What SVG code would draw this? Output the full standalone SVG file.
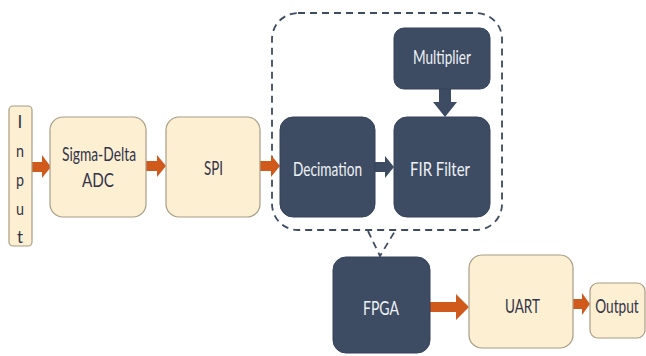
<svg xmlns="http://www.w3.org/2000/svg" width="646" height="356" viewBox="0 0 646 356">
  <style>
    .light { fill: #fcefd2; stroke: #a99c86; stroke-width: 1.2; }
    .dark { fill: #3d4c62; stroke: #34425a; stroke-width: 1; }
    .lt { font-family: Lato, "Open Sans", sans-serif; font-size: 19px; fill: #33344a; text-anchor: middle; }
    .dt { font-family: Lato, "Open Sans", sans-serif; font-size: 19px; fill: #eef1f5; text-anchor: middle; }
    .vt { font-family: Lato, "Open Sans", sans-serif; font-size: 17px; fill: #33344a; text-anchor: middle; }
    .orange { fill: #cf5a1c; }
    .navy { fill: #3d4c62; }
    .dash { fill: none; stroke: #3d4c62; stroke-width: 1.8; stroke-dasharray: 7 5; }
  </style>
  <rect width="646" height="356" fill="#ffffff"/>

  <!-- dashed enclosure of the filter chain -->
  <g id="fpga-boundary">
    <rect class="dash" x="272" y="13" width="230" height="217" rx="26"/>
  </g>

  <g id="connectors">
    <!-- orange block arrows -->
    <polygon class="orange" points="32,162 42,162 42,155 51,167 42,178 42,172 32,172"/>
    <polygon class="orange" points="146,161 157,161 157,155 166,166 157,177 157,171 146,171"/>
    <polygon class="orange" points="260,161 271,161 271,155 280,166 271,177 271,171 260,171"/>
    <polygon class="orange" points="430,302 456,302 456,294 469,307 456,320 456,312 430,312"/>
    <polygon class="orange" points="573,299 582,299 582,293 590,304 582,315 582,309 573,309"/>
    <!-- dark block arrows inside the enclosure -->
    <polygon class="navy" points="375,162 385,162 385,156 394,167 385,178 385,172 375,172"/>
    <polygon class="navy" points="439,89 451,89 451,102 457,102 445,117 433,102 439,102"/>
    <!-- dashed link from enclosure to FPGA -->
    <path class="dash" d="M368,231 L380,256 L395,231"/>
  </g>

  <g id="input">
    <rect class="light" x="9" y="106" width="23" height="140" rx="4"/>
    <text class="vt" x="20" y="128">I</text>
    <text class="vt" x="20" y="157" textLength="8" lengthAdjust="spacingAndGlyphs">n</text>
    <text class="vt" x="20" y="186" textLength="8" lengthAdjust="spacingAndGlyphs">p</text>
    <text class="vt" x="20" y="215" textLength="8" lengthAdjust="spacingAndGlyphs">u</text>
    <text class="vt" x="20" y="243" textLength="6" lengthAdjust="spacingAndGlyphs">t</text>
  </g>

  <g id="sigma-delta-adc">
    <rect class="light" x="50" y="117" width="96" height="100" rx="13"/>
    <text class="lt" x="99" y="161" textLength="74" lengthAdjust="spacingAndGlyphs">Sigma-Delta</text>
    <text class="lt" x="98" y="187" textLength="32" lengthAdjust="spacingAndGlyphs">ADC</text>
  </g>

  <g id="spi">
    <rect class="light" x="166" y="117" width="94" height="100" rx="13"/>
    <text class="lt" x="213.5" y="175" textLength="19" lengthAdjust="spacingAndGlyphs">SPI</text>
  </g>

  <g id="decimation">
    <rect class="dark" x="280" y="117" width="95" height="100" rx="13"/>
    <text class="dt" x="327.5" y="176" textLength="69" lengthAdjust="spacingAndGlyphs">Decimation</text>
  </g>

  <g id="multiplier">
    <rect class="dark" x="394" y="28" width="96" height="61" rx="10"/>
    <text class="dt" x="442" y="64" textLength="58" lengthAdjust="spacingAndGlyphs">Multiplier</text>
  </g>

  <g id="fir-filter">
    <rect class="dark" x="394" y="117" width="96" height="100" rx="13"/>
    <text class="dt" x="440" y="176" textLength="60" lengthAdjust="spacingAndGlyphs">FIR Filter</text>
  </g>

  <g id="fpga">
    <rect class="dark" x="333" y="257" width="97" height="96" rx="13"/>
    <text class="dt" x="381" y="315" textLength="36" lengthAdjust="spacingAndGlyphs">FPGA</text>
  </g>

  <g id="uart">
    <rect class="light" x="469" y="255" width="104" height="93" rx="13"/>
    <text class="lt" x="522.5" y="313" textLength="35" lengthAdjust="spacingAndGlyphs">UART</text>
  </g>

  <g id="output">
    <rect class="light" x="590" y="283" width="55" height="55" rx="8"/>
    <!-- narrowed with a horizontal scale to fit the small box -->
    <text class="lt" transform="translate(617 313) scale(0.72 1)" x="0" y="0">Output</text>
  </g>
</svg>
